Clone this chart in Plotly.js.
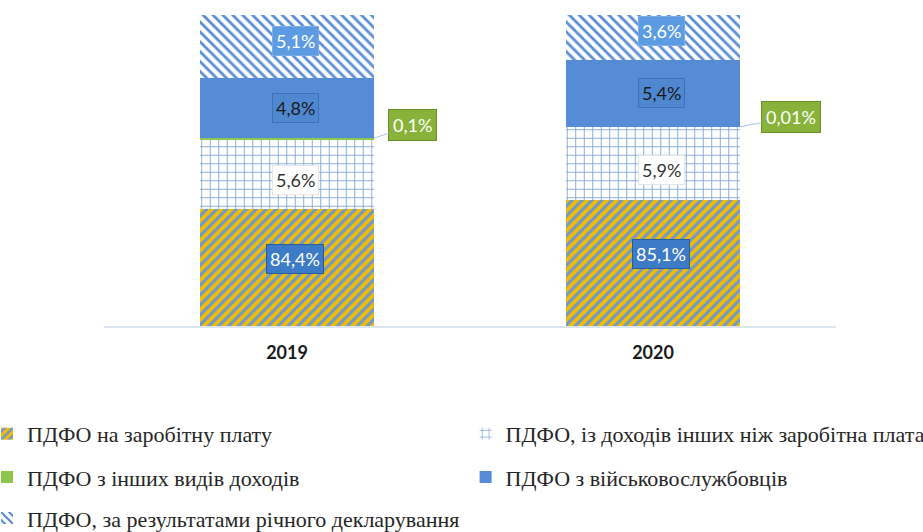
<!DOCTYPE html>
<html>
<head>
<meta charset="utf-8">
<script src="https://cdn.plot.ly/plotly-3.0.1.min.js"></script>
<style>html,body{margin:0;padding:0;background:#fff;}#chart{width:923px;height:532px;}</style>
</head>
<body>
<div id="chart"></div>
<script>
// ---- data ----
const years = ['2019', '2020'];
const seriesNames = [
  'ПДФО на заробітну плату',
  'ПДФО, із доходів інших ніж заробітна плата',
  'ПДФО з інших видів доходів',
  'ПДФО з військовослужбовців',
  'ПДФО, за результатами річного декларування'
];
const salary = [84.4, 85.1];
const otherThanSalary = [5.6, 5.9];
const otherKinds = [0.1, 0.01];
const military = [4.8, 5.4];
const declaration = [5.1, 3.6];

// ---- styles ----
const seriesValues = [salary, otherThanSalary, otherKinds, military, declaration];
const barWidth = 0.475;
const yMin = 75, yMax = 100;
const markers = [
  {color: '#F0BC00', line: {width: 0},
   pattern: {shape: '/', bgcolor: '#F2BC00', fgcolor: '#6F98CC', size: 7, solidity: 0.45, fillmode: 'replace'}},
  {color: '#FFFFFF', line: {width: 0},
   pattern: {shape: '+', bgcolor: '#FFFFFF', fgcolor: '#7FA5D8', size: 8.5, solidity: 0.2, fillmode: 'replace'}},
  {color: '#8CC64A', line: {width: 0}},
  {color: '#568CD5', line: {width: 0}},
  {color: '#FFFFFF', line: {width: 0},
   pattern: {shape: '\\', bgcolor: '#FFFFFF', fgcolor: '#5B8ED2', size: 7, solidity: 0.4, fillmode: 'replace'}}
];
const legendIds = ['legend', 'legend2', 'legend3', 'legend4', 'legend5'];
const legendPos = [[-0.1598, -0.347], [0.494, -0.347], [-0.1598, -0.486], [0.494, -0.486], [-0.1598, -0.618]];
const labelStyles = [
  {bg: '#3D7BC7', border: '#2A5C9A', color: '#FFFFFF', yshift: 9},
  {bg: '#FFFFFF', border: '#E6E6E6', color: '#333333', yshift: -6},
  null,
  {bg: '#4F88D0', border: '#3F72B4', color: '#1A1A1A', yshift: 0},
  {bg: '#5C9BE2', border: '#79AEEA', color: '#FFFFFF', yshift: 6}
];
const smallLabel = {bg: '#88B23A', border: '#6A9026', color: '#FFFFFF'};
const smallOffsets = [[39, -13], [51, -10]];

const fmt = v => String(v).replace('.', ',') + '%';

const traces = seriesNames.map((name, i) => ({
  type: 'bar',
  name: name,
  x: years,
  y: seriesValues[i],
  width: barWidth,
  marker: markers[i],
  legend: legendIds[i],
  hoverinfo: 'name+y'
}));

const annotations = [];
years.forEach((yr, j) => {
  let base = 0;
  seriesValues.forEach((vals, i) => {
    const v = vals[j];
    const st = labelStyles[i];
    if (st) {
      const lo = Math.max(base, yMin), hi = Math.min(base + v, yMax);
      annotations.push({
        x: j, y: (lo + hi) / 2, xref: 'x', yref: 'y',
        text: fmt(v), showarrow: false, xshift: 8, yshift: st.yshift,
        font: {family: 'Lato, sans-serif', size: 18, color: st.color},
        bgcolor: st.bg, bordercolor: st.border, borderwidth: 1, borderpad: 3
      });
    } else {
      annotations.push({
        x: j + barWidth / 2, y: base + v, xref: 'x', yref: 'y',
        text: fmt(v), showarrow: true, arrowhead: 0, arrowwidth: 1, arrowcolor: '#A9C3E6',
        ax: smallOffsets[j][0], ay: smallOffsets[j][1], axref: 'pixel', ayref: 'pixel',
        font: {family: 'Lato, sans-serif', size: 18, color: smallLabel.color},
        bgcolor: smallLabel.bg, bordercolor: smallLabel.border, borderwidth: 1, borderpad: 4
      });
    }
    base += v;
  });
});

const layout = {
  width: 923, height: 532,
  margin: {l: 104, r: 87, t: 15, b: 206, autoexpand: false},
  paper_bgcolor: '#FFFFFF', plot_bgcolor: '#FFFFFF',
  barmode: 'stack',
  showlegend: true,
  xaxis: {
    type: 'category', range: [-0.5, 1.5],
    showline: true, linecolor: '#DCE6F2', linewidth: 2,
    showgrid: false, zeroline: false, ticks: '', ticklabelstandoff: 9,
    tickfont: {family: 'Lato, sans-serif', size: 18, color: '#1A1A1A', weight: 'bold'},
    fixedrange: true
  },
  yaxis: {
    range: [yMin, yMax], visible: false, showgrid: false, zeroline: false, fixedrange: true
  },
  annotations: annotations
};
legendIds.forEach((id, i) => {
  layout[id] = {
    orientation: 'h', xanchor: 'left', yanchor: 'middle',
    x: legendPos[i][0], y: legendPos[i][1],
    font: {family: 'Liberation Serif, serif', size: 22, color: '#262626'},
    bgcolor: 'rgba(0,0,0,0)'
  };
});

Plotly.newPlot('chart', traces, layout, {displayModeBar: false, responsive: false});
</script>
</body>
</html>
